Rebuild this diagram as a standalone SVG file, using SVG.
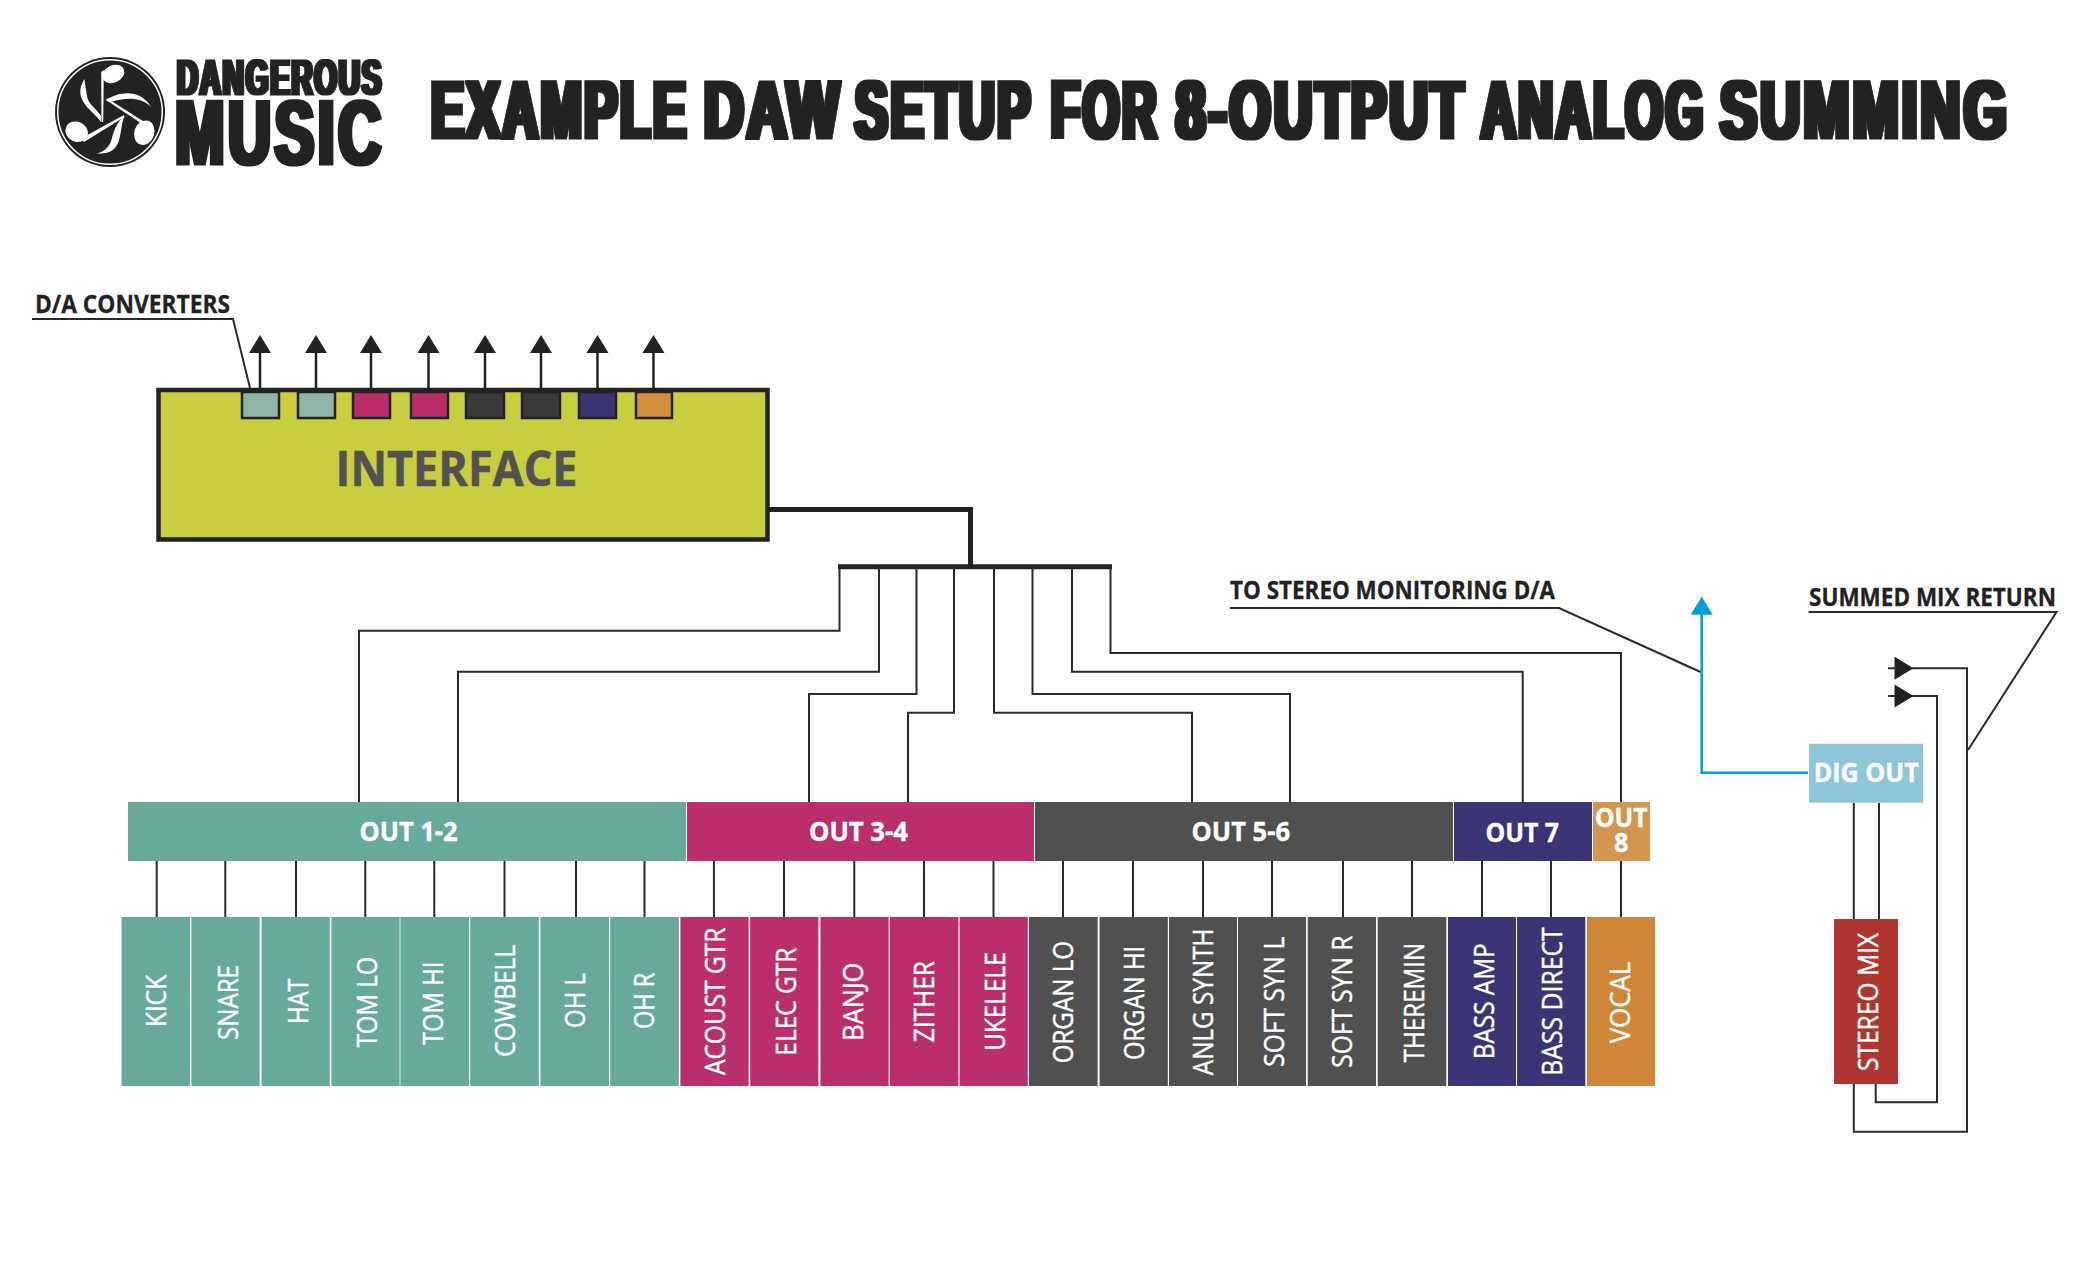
<svg xmlns="http://www.w3.org/2000/svg" width="2100" height="1275" viewBox="0 0 2100 1275">
<style>
text{font-family:"Open Sans","Noto Sans","Liberation Sans",sans-serif;}
.imp{font-family:"Liberation Sans",Arial,sans-serif;font-weight:700;fill:#222;stroke:#222;stroke-width:1;}
.call{font-weight:700;font-size:25px;fill:#222;stroke:#222;stroke-width:.3;}
.bar{font-weight:700;font-size:27px;fill:#fff;stroke:#fff;stroke-width:.4;}
.trk{font-weight:400;font-size:28px;fill:#fff;stroke:#fff;stroke-width:.45;}
.w{fill:none;stroke:#2a2a2a;stroke-width:2;}
.w3{fill:none;stroke:#222;stroke-width:2.5;}
.th{fill:none;stroke:#222;stroke-width:5;}
.hd{fill:#222;}
.teal{fill:#67aa9b;}.mag{fill:#b92e6b;}.gry{fill:#505050;}.nav{fill:#3b3474;}.org{fill:#d08637;}
.sq{stroke:#222;stroke-width:2.5;}
</style>
<defs>
  <filter id="fatT" x="-2%" y="-5%" width="104%" height="110%" color-interpolation-filters="sRGB"><feMorphology operator="dilate" radius="4.5 0.8"/></filter>
  <filter id="fatL" x="-4%" y="-5%" width="108%" height="110%" color-interpolation-filters="sRGB"><feMorphology operator="dilate" radius="2.7 0"/></filter>
</defs>

<g id="logo">
  <circle cx="110" cy="112" r="55" fill="#222"/>
  <circle cx="110" cy="112" r="52.3" fill="none" stroke="#fff" stroke-width="1.5"/>
  <g fill="#fff">
    <ellipse cx="113.3" cy="74" rx="11.5" ry="8.5" transform="rotate(-25 113.3 74)"/>
    <path d="M101.2 72 L103.8 70 L103.2 122 L101.5 122 Z"/>
    <path d="M84.5 79 C76 92 82 102 90 110 C94 114 98 118 101 122 L101 116 C96 108 88 104 87 96 C86 90 85 84 84.5 79 Z"/>
    <ellipse cx="144.3" cy="132.7" rx="10" ry="12.5" transform="rotate(18 144.3 132.7)"/>
    <path d="M106 100 L107.5 98.5 L146 123 L144.5 125.5 Z"/>
    <path d="M106 100 C118 92 140 88 151 107 C140 96 125 98 110 102 Z"/>
    <ellipse cx="76.7" cy="131.7" rx="11.5" ry="10" transform="rotate(25 76.7 131.7)"/>
    <path d="M81 138.5 L124 115 L124.5 117 L84 142 Z"/>
    <path d="M124.5 116 C120 126 122 140 115 148 C110 153 103 154 96.7 153.5 C106 151 110 146 112 138 C114 130 117 122 124.5 116 Z"/>
  </g>
  <text class="imp" transform="scale(.56 1)" filter="url(#fatL)"><tspan x="316" y="95" font-size="50" letter-spacing="3" textLength="368" lengthAdjust="spacingAndGlyphs">DANGEROUS</tspan> <tspan x="313" y="164" font-size="90" letter-spacing="6" stroke-width="3" textLength="374" lengthAdjust="spacingAndGlyphs">MUSIC</tspan></text>
</g>

<g id="title">
  <text class="imp" transform="scale(.56 1)" filter="url(#fatT)" y="138" font-size="82" letter-spacing="5"><tspan x="770" textLength="460" lengthAdjust="spacingAndGlyphs">EXAMPLE</tspan> <tspan x="1257" textLength="247" lengthAdjust="spacingAndGlyphs">DAW</tspan> <tspan x="1527" textLength="318" lengthAdjust="spacingAndGlyphs">SETUP</tspan> <tspan x="1877" textLength="193" lengthAdjust="spacingAndGlyphs">FOR</tspan> <tspan x="2100" textLength="519" lengthAdjust="spacingAndGlyphs">8-OUTPUT</tspan> <tspan x="2645" textLength="401" lengthAdjust="spacingAndGlyphs">ANALOG</tspan> <tspan x="3072" textLength="517" lengthAdjust="spacingAndGlyphs">SUMMING</tspan></text>
</g>

<g id="connectors">
  <path class="th" d="M769 509.5H970.5V567"/>
  <path class="th" d="M838 566.7H1112"/>
  <path class="w" d="M839.5 566V630.7H359V802"/>
  <path class="w" d="M879 566V671.7H458V802"/>
  <path class="w" d="M916.5 566V694H809V802"/>
  <path class="w" d="M954 566V712.7H908V802"/>
  <path class="w" d="M994 566V712.7H1192V802"/>
  <path class="w" d="M1032.5 566V694H1290V802"/>
  <path class="w" d="M1072 566V671.7H1522.7V802"/>
  <path class="w" d="M1110.5 566V653H1621V802"/>
  <path class="w" d="M156.7 861V917M225.3 861V917M296 861V917M365.3 861V917M434.3 861V917M504.5 861V917M576 861V917M644.5 861V917M713.9 861V917M784 861V917M854.3 861V917M924 861V917M993.5 861V917M1063 861V917M1133 861V917M1203 861V917M1272 861V917M1343 861V917M1412 861V917M1482 861V917M1551 861V917M1621 861V917"/>
  <path class="w3" d="M260 350V389M316 350V389M371 350V389M428.5 350V389M485 350V389M541 350V389M597.5 350V389M653.5 350V389"/>
  <path class="hd" d="M260 335l11 18h-22zM316 335l11 18h-22zM371 335l11 18h-22zM428.5 335l11 18h-22zM485 335l11 18h-22zM541 335l11 18h-22zM597.5 335l11 18h-22zM653.5 335l11 18h-22z"/>
  <path class="w" d="M32 319H233L250 388"/>
  <path class="w" d="M1230 608H1559L1700.6 672"/>
  <path class="w" d="M1808.5 612H2056.5L1968 750"/>
  <path d="M1808 772.8H1701.7V610" fill="none" stroke="#00a0d8" stroke-width="2.5"/>
  <path d="M1701.7 596.4l11 18.3h-22z" fill="#00a0d8"/>
  <path class="w" d="M1853.8 803V919M1879 803V919"/>
  <path class="w" d="M1853.8 1084V1131.7H1967V668.3H1900"/>
  <path class="w" d="M1875.7 1084V1102.3H1937V695.9H1900"/>
  <path class="hd" d="M1913.5 668.3l-19-11.5v23zM1913.5 695.9l-19-11.5v23z"/>
  <path class="w" d="M1888 668.3H1896M1888 695.9H1896"/>
</g>

<g id="interface">
  <rect x="158.5" y="390" width="609" height="149.5" fill="#c7cf3f" stroke="#222" stroke-width="4.5"/>
  <text x="335.5" y="485.5" font-size="48" font-weight="700" fill="#525252" stroke="#525252" stroke-width=".6" textLength="242" lengthAdjust="spacingAndGlyphs">INTERFACE</text>
  <rect class="sq" x="242" y="392" width="37" height="26" fill="#8eb5a5"/>
  <rect class="sq" x="298" y="392" width="37" height="26" fill="#8eb5a5"/>
  <rect class="sq" x="353" y="392" width="37" height="26" fill="#bb2d6a"/>
  <rect class="sq" x="411" y="392" width="37" height="26" fill="#bb2d6a"/>
  <rect class="sq" x="466" y="392" width="38" height="26" fill="#3a3a3a"/>
  <rect class="sq" x="522" y="392" width="38" height="26" fill="#3a3a3a"/>
  <rect class="sq" x="579" y="392" width="37" height="26" fill="#3b3474"/>
  <rect class="sq" x="636" y="392" width="36" height="26" fill="#d58f3c"/>
</g>

<g id="callouts">
  <text class="call" x="35" y="313" textLength="195" lengthAdjust="spacingAndGlyphs">D/A CONVERTERS</text>
  <text class="call" x="1230" y="599" textLength="325" lengthAdjust="spacingAndGlyphs">TO STEREO MONITORING D/A</text>
  <text class="call" x="1809" y="606" textLength="247" lengthAdjust="spacingAndGlyphs">SUMMED MIX RETURN</text>
</g>

<g id="out-1-2"><rect class="teal" x="128" y="802" width="558" height="59"/><text class="bar" x="359.5" y="841" textLength="98" lengthAdjust="spacingAndGlyphs">OUT 1-2</text></g>
<g id="out-3-4"><rect class="mag" x="687" y="802" width="347" height="59"/><text class="bar" x="809" y="841" textLength="99" lengthAdjust="spacingAndGlyphs">OUT 3-4</text></g>
<g id="out-5-6"><rect class="gry" x="1035" y="802" width="418" height="59"/><text class="bar" x="1191.5" y="841" textLength="98.5" lengthAdjust="spacingAndGlyphs">OUT 5-6</text></g>
<g id="out-7"><rect class="nav" x="1454" y="802" width="138" height="59"/><text class="bar" x="1485.5" y="841.5" textLength="73.5" lengthAdjust="spacingAndGlyphs">OUT 7</text></g>
<g id="out-8"><rect x="1593" y="802" width="57" height="59" fill="#d4954e"/><text class="bar"><tspan x="1595" y="826.5" textLength="52.5" lengthAdjust="spacingAndGlyphs">OUT</tspan> <tspan x="1614" y="852.3" textLength="14.5" lengthAdjust="spacingAndGlyphs">8</tspan></text></g>

<g id="kick"><rect class="teal" x="121.6" y="917" width="68.4" height="169"/><text class="trk" transform="translate(166 1027.3) rotate(-90)" textLength="52.3" lengthAdjust="spacingAndGlyphs">KICK</text></g>
<g id="snare"><rect class="teal" x="191.4" y="917" width="68.2" height="169"/><text class="trk" transform="translate(238.3 1040) rotate(-90)" textLength="75" lengthAdjust="spacingAndGlyphs">SNARE</text></g>
<g id="hat"><rect class="teal" x="261.6" y="917" width="68.2" height="169"/><text class="trk" transform="translate(308 1024) rotate(-90)" textLength="45.7" lengthAdjust="spacingAndGlyphs">HAT</text></g>
<g id="tom-lo"><rect class="teal" x="331.4" y="917" width="68.2" height="169"/><text class="trk" transform="translate(376.7 1047.3) rotate(-90)" textLength="90.6" lengthAdjust="spacingAndGlyphs">TOM LO</text></g>
<g id="tom-hi"><rect class="teal" x="400.4" y="917" width="68.6" height="169"/><text class="trk" transform="translate(442.9 1045) rotate(-90)" textLength="83.3" lengthAdjust="spacingAndGlyphs">TOM HI</text></g>
<g id="cowbell"><rect class="teal" x="470.2" y="917" width="68.6" height="169"/><text class="trk" transform="translate(515 1056.7) rotate(-90)" textLength="111.7" lengthAdjust="spacingAndGlyphs">COWBELL</text></g>
<g id="oh-l"><rect class="teal" x="540.4" y="917" width="68.6" height="169"/><text class="trk" transform="translate(584.5 1028) rotate(-90)" textLength="55" lengthAdjust="spacingAndGlyphs">OH L</text></g>
<g id="oh-r"><rect class="teal" x="610.2" y="917" width="68.6" height="169"/><text class="trk" transform="translate(653.9 1029) rotate(-90)" textLength="56.3" lengthAdjust="spacingAndGlyphs">OH R</text></g>
<g id="acoust-gtr"><rect class="mag" x="680.4" y="917" width="68.2" height="169"/><text class="trk" transform="translate(724.5 1075) rotate(-90)" textLength="147.3" lengthAdjust="spacingAndGlyphs">ACOUST GTR</text></g>
<g id="elec-gtr"><rect class="mag" x="750.2" y="917" width="68.2" height="169"/><text class="trk" transform="translate(795.5 1055.7) rotate(-90)" textLength="108" lengthAdjust="spacingAndGlyphs">ELEC GTR</text></g>
<g id="banjo"><rect class="mag" x="820.4" y="917" width="68.2" height="169"/><text class="trk" transform="translate(863 1040.7) rotate(-90)" textLength="78" lengthAdjust="spacingAndGlyphs">BANJO</text></g>
<g id="zither"><rect class="mag" x="889.8" y="917" width="68.6" height="169"/><text class="trk" transform="translate(934.3 1042.3) rotate(-90)" textLength="81.3" lengthAdjust="spacingAndGlyphs">ZITHER</text></g>
<g id="ukelele"><rect class="mag" x="959.6" y="917" width="68.2" height="169"/><text class="trk" transform="translate(1005.2 1050.7) rotate(-90)" textLength="98.4" lengthAdjust="spacingAndGlyphs">UKELELE</text></g>
<g id="organ-lo"><rect class="gry" x="1029" y="917" width="68.6" height="169"/><text class="trk" transform="translate(1073.4 1063.3) rotate(-90)" textLength="122.3" lengthAdjust="spacingAndGlyphs">ORGAN LO</text></g>
<g id="organ-hi"><rect class="gry" x="1099.6" y="917" width="68.2" height="169"/><text class="trk" transform="translate(1144 1060) rotate(-90)" textLength="114.3" lengthAdjust="spacingAndGlyphs">ORGAN HI</text></g>
<g id="anlg-synth"><rect class="gry" x="1169" y="917" width="68" height="169"/><text class="trk" transform="translate(1213 1075.2) rotate(-90)" textLength="146.7" lengthAdjust="spacingAndGlyphs">ANLG SYNTH</text></g>
<g id="soft-syn-l"><rect class="gry" x="1238" y="917" width="68" height="169"/><text class="trk" transform="translate(1284 1066.7) rotate(-90)" textLength="130" lengthAdjust="spacingAndGlyphs">SOFT SYN L</text></g>
<g id="soft-syn-r"><rect class="gry" x="1307.7" y="917" width="68.3" height="169"/><text class="trk" transform="translate(1352 1067.7) rotate(-90)" textLength="132" lengthAdjust="spacingAndGlyphs">SOFT SYN R</text></g>
<g id="theremin"><rect class="gry" x="1377.7" y="917" width="68.6" height="169"/><text class="trk" transform="translate(1424.3 1062.3) rotate(-90)" textLength="119.6" lengthAdjust="spacingAndGlyphs">THEREMIN</text></g>
<g id="bass-amp"><rect class="nav" x="1448" y="917" width="68" height="169"/><text class="trk" transform="translate(1494 1059.3) rotate(-90)" textLength="116" lengthAdjust="spacingAndGlyphs">BASS AMP</text></g>
<g id="bass-direct"><rect class="nav" x="1517" y="917" width="68.3" height="169"/><text class="trk" transform="translate(1562 1075.7) rotate(-90)" textLength="148.4" lengthAdjust="spacingAndGlyphs">BASS DIRECT</text></g>
<g id="vocal"><rect class="org" x="1587" y="917" width="68" height="169"/><text class="trk" transform="translate(1630 1043.3) rotate(-90)" textLength="81.6" lengthAdjust="spacingAndGlyphs">VOCAL</text></g>

<g id="dig-out"><rect x="1809" y="743.7" width="114" height="59" fill="#8fc5d9"/><text x="1813.7" y="782" font-size="27" font-weight="700" fill="#fff" stroke="#fff" stroke-width=".4" textLength="105" lengthAdjust="spacingAndGlyphs">DIG OUT</text></g>
<g id="stereo-mix"><rect x="1834" y="919" width="64" height="165" fill="#b0352e"/><text class="trk" transform="translate(1878 1071) rotate(-90)" textLength="138" lengthAdjust="spacingAndGlyphs">STEREO MIX</text></g>
</svg>
